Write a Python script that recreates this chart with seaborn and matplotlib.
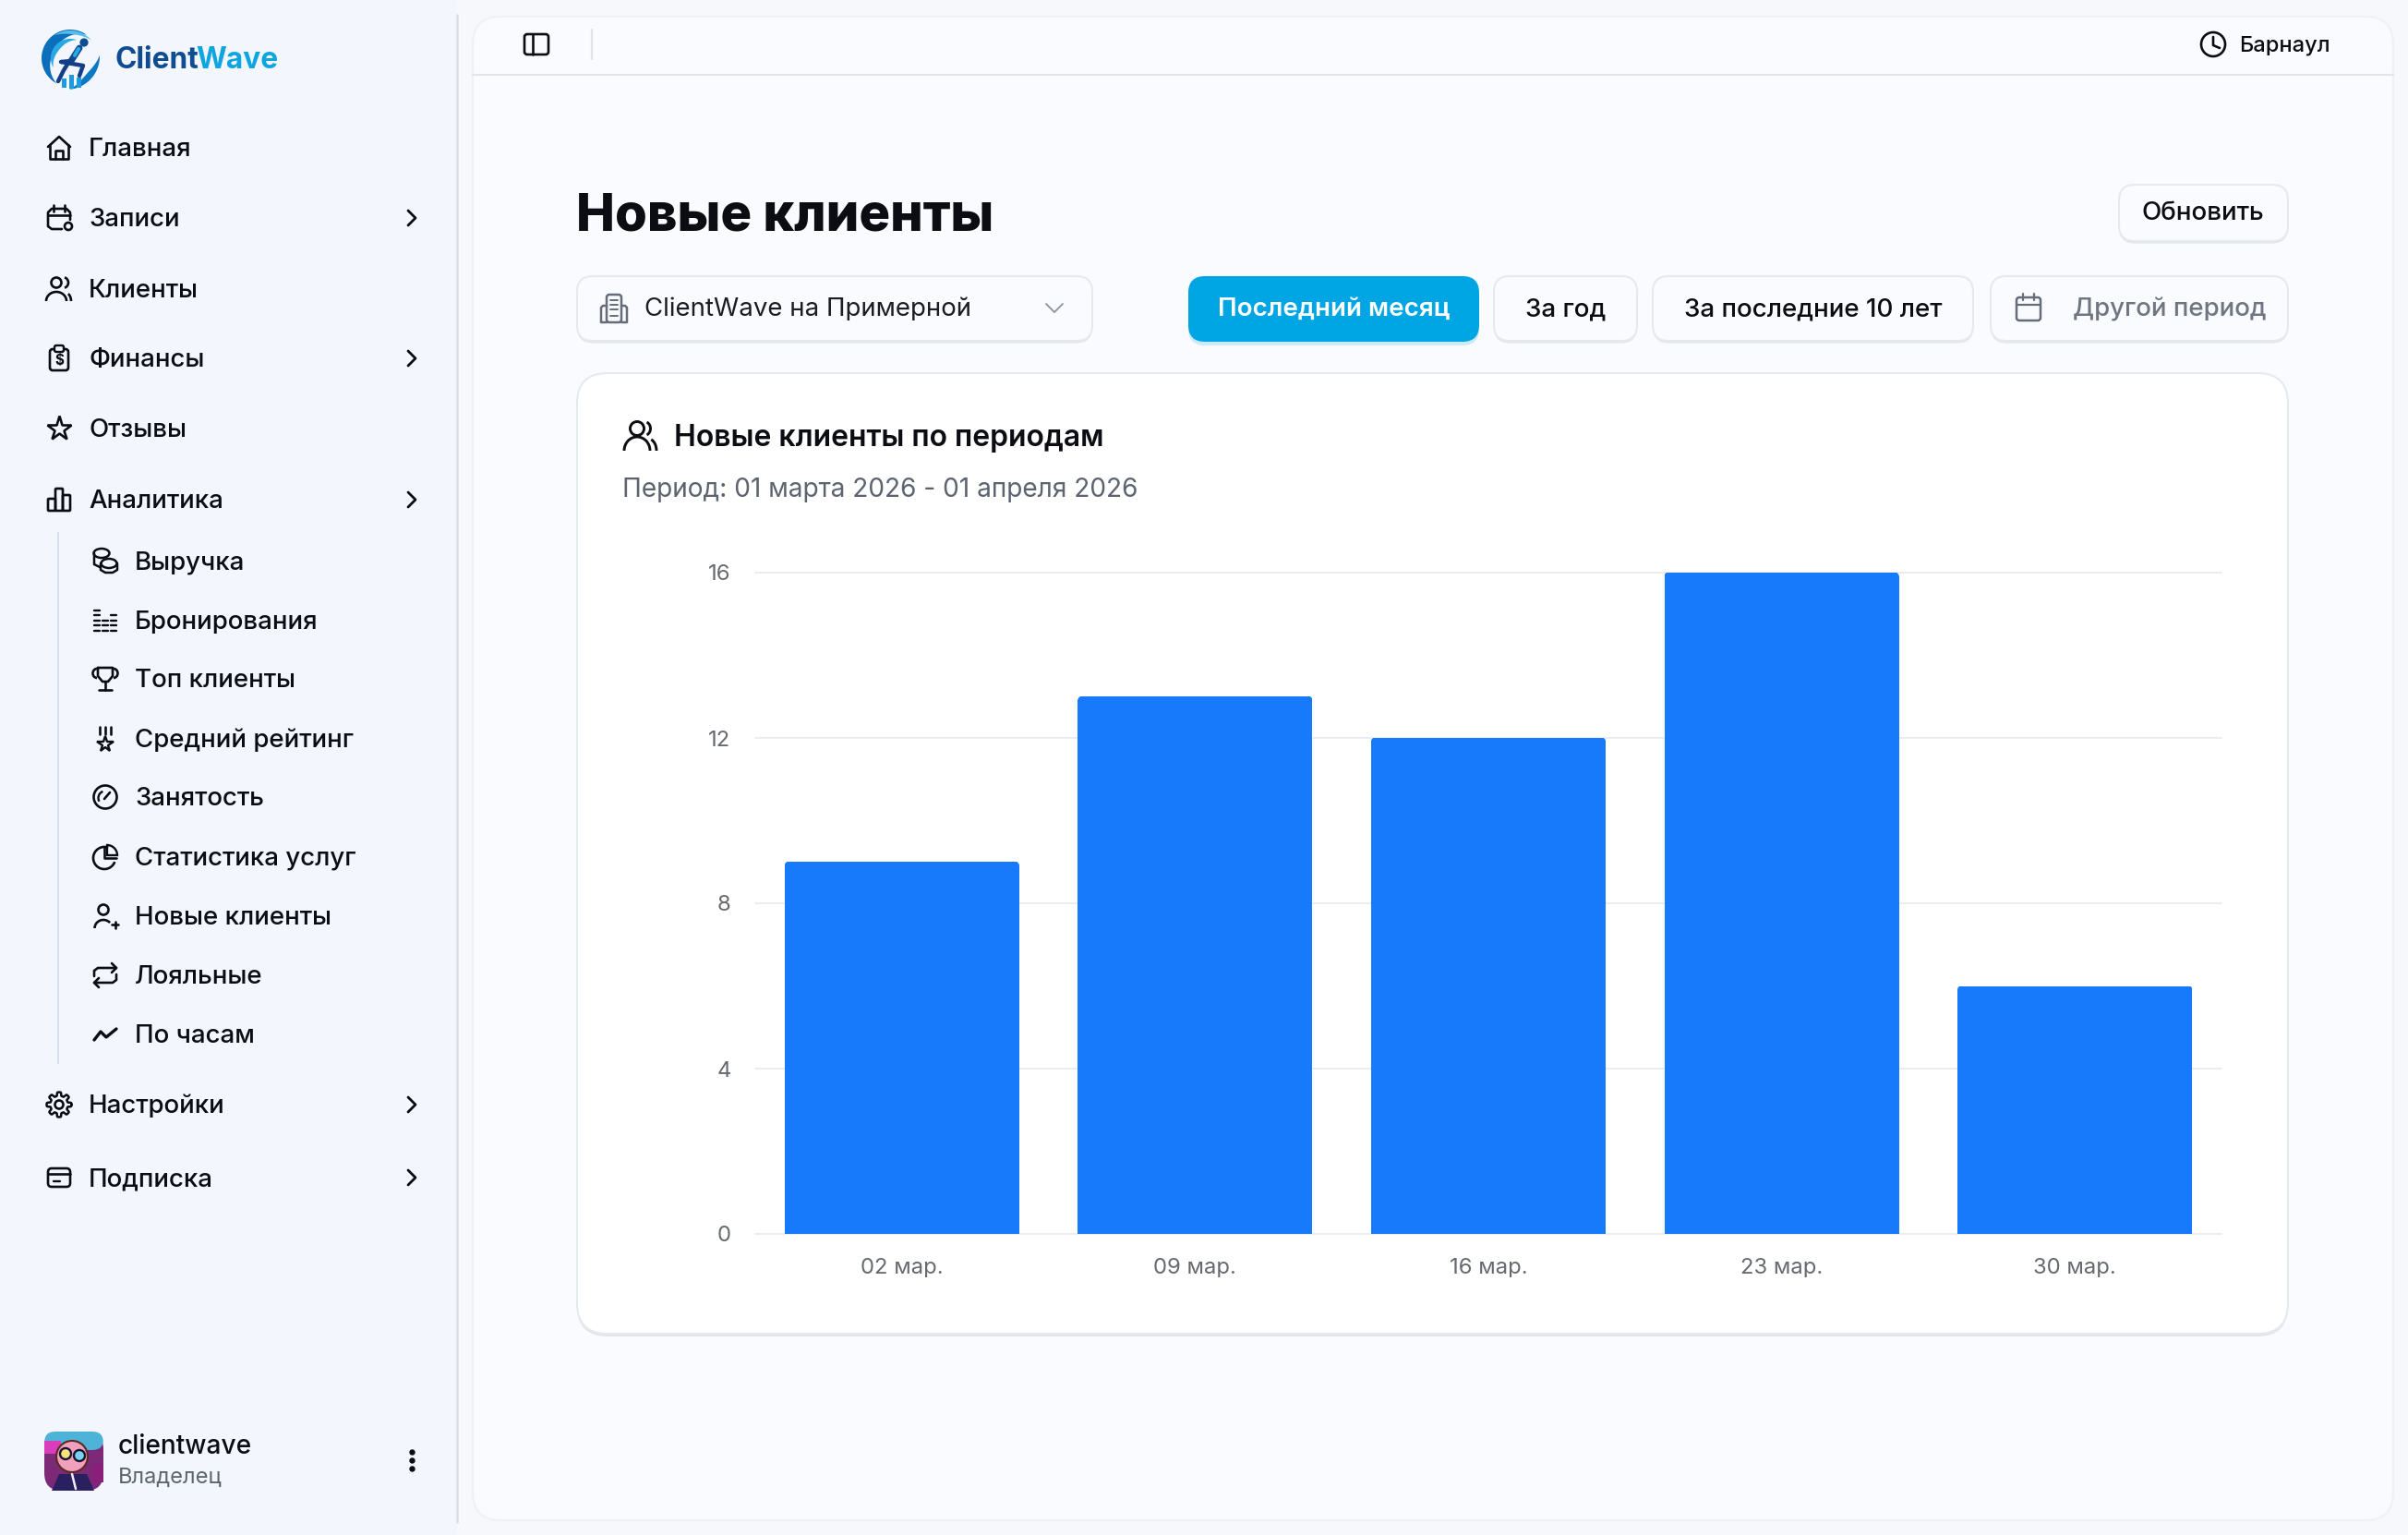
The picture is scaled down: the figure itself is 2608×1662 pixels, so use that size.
import matplotlib.pyplot as plt
import numpy as np
import seaborn as sns
from matplotlib.patches import Arc, Circle, Ellipse, FancyBboxPatch, Polygon, Wedge
from matplotlib.transforms import IdentityTransform

W, H = 2608, 1662

dates = ['02 мар.', '09 мар.', '16 мар.', '23 мар.', '30 мар.']
new_clients = [9, 13, 12, 16, 6]
y_ticks = [0, 4, 8, 12, 16]

menu_top = ['Главная', 'Записи', 'Клиенты', 'Финансы', 'Отзывы', 'Аналитика']
menu_sub = ['Выручка', 'Бронирования', 'Топ клиенты', 'Средний рейтинг', 'Занятость',
            'Статистика услуг', 'Новые клиенты', 'Лояльные', 'По часам']
menu_bottom = ['Настройки', 'Подписка']

DARK = '#0b0d12'
GREY = '#5c6470'
ICON_GREY = '#666d78'
BLUE = '#167afa'
CYAN = '#00a5e3'
BORDER = '#e6e9ed'

sns.set_theme(style='white')
plt.rcParams['font.family'] = ['Inter', 'DejaVu Sans']

fig = plt.figure(figsize=(W / 100, H / 100), dpi=100, facecolor='#f6f8fc')
ui = fig.add_axes([0, 0, 1, 1])
ui.set_xlim(0, W)
ui.set_ylim(H, 0)
ui.axis('off')


def box(x0, y0, x1, y1, r=16, fc='white', ec='none', lw=0, z=2):
    p = FancyBboxPatch((x0, y0), x1 - x0, y1 - y0, boxstyle=f'round,pad=0,rounding_size={r}',
                       fc=fc, ec=ec, lw=lw, zorder=z)
    ui.add_patch(p)


def line(xs, ys, lw=1.9, c=DARK, z=5):
    ui.plot(xs, ys, color=c, lw=lw, zorder=z, solid_capstyle='round', solid_joinstyle='round')


def label(x, y, s, size=20, c=DARK, weight='medium', ha='left'):
    return ui.text(x, y + 2, s, fontsize=size, color=c, fontweight=weight, ha=ha, va='center', zorder=6)


def ring(x, y, r, lw=1.9, c=DARK, fc='none'):
    ui.add_patch(Circle((x, y), r, fc=fc, ec=c, lw=lw, zorder=5))


def arc(x, y, w, h, a0, a1, lw=1.9, c=DARK):
    ui.add_patch(Arc((x, y), w, h, theta1=a0, theta2=a1, color=c, lw=lw, zorder=5))


def crescent(x, y, r, a0, a1, thick, c, z=4):
    # tapered swoosh for the logo
    t = np.linspace(0, 1, 60)
    a = np.radians(a0 + (a1 - a0) * t)
    inner = r - thick * np.sin(np.pi * t)
    pts = np.r_[np.c_[x + r * np.cos(a), y + r * np.sin(a)],
                np.c_[x + inner * np.cos(a), y + inner * np.sin(a)][::-1]]
    ui.add_patch(Polygon(pts, fc=c, ec='none', zorder=z))


def button(x0, x1, y0=299, y1=369, r=17):
    box(x0, y0 + 2, x1, y1 + 2.5, r, fc='#e3e6ea')
    box(x0, y0, x1, y1, r, fc='#f9fbfe', ec=BORDER, lw=1.5, z=3)


def chevron(x, y):
    line([x - 4, x + 4, x - 4], [y - 8, y, y + 8], lw=2)


# --- icons, roughly 26px boxes around (x, y) ---
def icon_home(x, y):
    line([x - 12, x, x + 12], [y - 1, y - 12, y - 1])
    line([x - 10, x - 10, x + 10, x + 10], [y - 3, y + 12, y + 12, y - 3])
    line([x - 4, x - 4, x + 4, x + 4], [y + 12, y + 3, y + 3, y + 12])


def icon_calendar(x, y):
    line([x + 12, x + 12, x + 8, x - 8, x - 12, x - 12, x - 8, x + 3],
         [y + 2, y - 6, y - 10, y - 10, y - 6, y + 9, y + 12, y + 12])
    line([x - 12, x + 12], [y - 3, y - 3])
    line([x - 6, x - 6], [y - 14, y - 7])
    line([x + 6, x + 6], [y - 14, y - 7])
    ring(x + 10, y + 9, 4)


def icon_users(x, y):
    ring(x - 3, y - 7, 5.5)
    arc(x - 3, y + 13, 22, 20, 180, 360)
    arc(x + 4, y - 7, 12, 12, -70, 70)
    arc(x + 7, y + 13, 12, 18, 290, 360)


def icon_finance(x, y):
    box(x - 10, y - 10, x + 10, y + 13, 3, fc='none', ec=DARK, lw=1.9, z=5)
    box(x - 5, y - 14, x + 5, y - 7, 2, fc='#f3f7fd', ec=DARK, lw=1.7, z=5)
    ui.text(x, y + 3, '$', fontsize=11, color=DARK, ha='center', va='center', fontweight='bold', zorder=6)


def icon_star(x, y):
    ui.plot([x], [y], marker='*', ms=20, mfc='none', mec=DARK, mew=1.9, zorder=5)


def icon_bars(x, y):
    box(x - 12, y - 1, x - 4, y + 12, 1, fc='none', ec=DARK, lw=1.9, z=5)
    box(x - 4, y - 12, x + 4, y + 12, 1, fc='none', ec=DARK, lw=1.9, z=5)
    box(x + 4, y - 5, x + 12, y + 12, 1, fc='none', ec=DARK, lw=1.9, z=5)


def icon_coins(x, y):
    ui.add_patch(Ellipse((x - 4, y - 8), 17, 10, fc='none', ec=DARK, lw=1.8, zorder=5))
    ui.add_patch(Ellipse((x + 4, y + 3), 17, 10, fc='#f3f7fd', ec=DARK, lw=1.8, zorder=5))
    line([x - 12, x - 12, x - 6], [y - 8, y + 4, y + 7], lw=1.8)
    line([x - 5, x - 5, x, x + 8, x + 13, x + 13], [y + 3, y + 10, y + 13, y + 13, y + 10, y + 3], lw=1.8)


def icon_levels(x, y):
    rows = {-9: [-11, -6, 0, 5, 11], 0: [0, 5, 11], 9: [-6, 0, 5, 11]}
    for dx, dys in rows.items():
        for dy in dys:
            line([x + dx - 3, x + dx + 3], [y + dy, y + dy], lw=1.7)


def icon_trophy(x, y):
    line([x - 8, x - 8, x - 3, x + 3, x + 8, x + 8, x - 8], [y - 12, y - 3, y + 3, y + 3, y - 3, y - 12, y - 12])
    arc(x - 9, y - 6, 9, 10, 90, 270)
    arc(x + 9, y - 6, 9, 10, -90, 90)
    line([x, x], [y + 3, y + 12])
    line([x - 7, x + 7], [y + 12, y + 12])


def icon_medal(x, y):
    for dx in [-6, 0, 6]:
        line([x + dx, x + dx], [y - 13, y - 5], lw=1.9)
    ui.plot([x], [y + 6], marker='*', ms=13, mfc='none', mec=DARK, mew=1.7, zorder=5)


def icon_gauge(x, y):
    ring(x, y, 12.5)
    line([x - 1, x + 5], [y + 2, y - 5])
    arc(x, y + 1, 15, 15, 150, 250, lw=1.7)


def icon_pie(x, y):
    arc(x - 1, y + 1, 24, 24, 20, 290)
    line([x - 1, x - 1, x + 12], [y - 11, y + 1, y + 1])
    ui.add_patch(Wedge((x + 2, y - 2), 11, -90, 0, fc='none', ec=DARK, lw=1.7, zorder=5))


def icon_user_plus(x, y):
    ring(x - 2, y - 7, 5.5)
    arc(x - 2, y + 13, 19, 18, 180, 320)
    line([x + 7, x + 14], [y + 9, y + 9])
    line([x + 10.5, x + 10.5], [y + 5.5, y + 12.5])


def icon_repeat(x, y):
    line([x - 12, x - 12, x - 8, x + 12], [y + 1, y - 5, y - 8, y - 8])
    line([x + 7, x + 12, x + 7], [y - 13, y - 8, y - 3])
    line([x + 12, x + 12, x + 8, x - 12], [y - 1, y + 5, y + 8, y + 8])
    line([x - 7, x - 12, x - 7], [y + 3, y + 8, y + 13])


def icon_trend(x, y):
    line([x - 12, x - 5, x + 1, x + 12], [y + 6, y - 3, y + 3, y - 6], lw=2.4)


def icon_gear(x, y):
    ring(x, y, 4.5)
    a = np.linspace(0, 2 * np.pi, 240)
    r = 11.5 + 2 * np.tanh(3 * np.cos(8 * a))
    ui.plot(x + r * np.cos(a), y + r * np.sin(a), color=DARK, lw=1.8, zorder=5)


def icon_card(x, y):
    box(x - 12, y - 10, x + 12, y + 10, 4, fc='none', ec=DARK, lw=1.9, z=5)
    line([x - 12, x + 12], [y - 4, y - 4])
    line([x - 6, x + 1], [y + 4, y + 4], lw=1.7)


# --- page frame ---
ui.add_patch(plt.Rectangle((0, 0), 495, H, fc='#f3f7fd', ec='none', zorder=1))
ui.plot([495, 495], [16, 1648], color='#d9dfe8', lw=1.8, zorder=2)
box(512, 18, 2592, 1646, 30, fc='#f9fbfe', ec='#eef1f5', lw=1.5)
ui.plot([512, 2592], [81, 81], color='#e1e5ea', lw=1.5, zorder=3)

# --- logo ---
crescent(76, 63, 31, 305, 118, 12, '#0b6fbb')
crescent(76, 63, 30, 320, 235, 4, '#59bdec', z=5)
crescent(76, 63, 21, 290, 150, 6, '#2aa8e6', z=5)
crescent(72, 61, 36, -2, 85, 7, '#0d79c4')
ui.add_patch(Circle((91, 46), 4.6, fc='#0f4c92', ec='none', zorder=7))
line([86, 77], [52, 66], lw=5, c='#0f4c92', z=7)
line([77, 66, 90, 86], [66, 67, 71, 82], lw=3.2, c='#123f85', z=7)
line([74, 69, 63], [68, 76, 88], lw=3.2, c='#123f85', z=7)
line([85, 81], [53, 60], lw=3, c='#2aa8e6', z=8)
for bx, bt, bb in zip([67, 75, 83], [85, 81, 84], [95, 96, 95]):
    ui.add_patch(plt.Rectangle((bx, bt), 4.5, bb - bt, fc='#1d9be0', ec='none', zorder=6))
label(124, 64, 'Client', size=22.8, c='#0f4c92', weight='bold')
label(212, 64, 'Wave', size=22.8, c='#0ea5e0', weight='bold')

# --- sidebar ---
top_icons = [icon_home, icon_calendar, icon_users, icon_finance, icon_star, icon_bars]
top_y = [160, 236, 313, 388, 464, 541]
for name, fn, y in zip(menu_top, top_icons, top_y):
    fn(64, y)
    label(96, y, name, size=19.9)
for y in [236, 388, 541]:
    chevron(446, y)

ui.plot([63, 63], [577, 1151], color='#d9dfe8', lw=1.5, zorder=3)
sub_icons = [icon_coins, icon_levels, icon_trophy, icon_medal, icon_gauge, icon_pie,
             icon_user_plus, icon_repeat, icon_trend]
sub_y = [607, 672, 735, 800, 863, 928, 992, 1056, 1120]
for name, fn, y in zip(menu_sub, sub_icons, sub_y):
    fn(114, y)
    label(146, y, name, size=19.9)

for name, fn, y in zip(menu_bottom, [icon_gear, icon_card], [1196, 1275]):
    fn(64, y)
    label(96, y, name, size=19.9)
    chevron(446, y)

# --- profile block ---
box(48, 1550, 112, 1614, 19, fc='#7c2a78')
box(48, 1550, 112, 1570, 12, fc='#4fb3d9', z=3)
ui.add_patch(plt.Rectangle((48, 1560), 18, 14, fc='#d93dbb', ec='none', zorder=3))
ui.add_patch(plt.Rectangle((100, 1585), 12, 20, fc='#8a1f7a', ec='none', zorder=3))
ui.add_patch(Circle((78, 1577), 17, fc='#f0a0bd', ec='#5a2a20', lw=1.5, zorder=4))
ui.add_patch(Polygon([[56, 1614], [64, 1596], [94, 1596], [102, 1614]], fc='#2a2060', ec='none', zorder=4))
line([78, 82], [1596, 1612], lw=1.8, c='#f2eef5')
ring(71, 1574, 6, lw=1.7, c='#1a1430', fc='#f5e27a')
ring(86, 1576, 6, lw=1.7, c='#1a1430', fc='#7ad0f0')
label(128, 1565, 'clientwave', size=20.2)
label(128, 1598, 'Владелец', size=17, c=GREY, weight='normal')
for y in [1572, 1581, 1590]:
    ui.plot([446], [y], 'o', ms=3.6, color=DARK, zorder=5)

# --- top bar ---
box(568, 37, 594, 59, 3, fc='none', ec=DARK, lw=1.9, z=5)
line([577, 577], [37, 59])
ui.plot([641, 641], [32, 64], color='#dfe3e8', lw=1.5, zorder=5)
ring(2397, 48, 13)
line([2397, 2397, 2404], [40, 49, 52])
label(2425, 47, 'Барнаул', size=17)

# --- page heading and controls ---
label(624, 233, 'Новые клиенты', size=40.5, weight=800)

button(2295, 2478, 200, 261)
label(2386, 229, 'Обновить', size=20, ha='center')

button(625, 1183)
# building icon of the select
box(657, 319, 673, 349, 3, fc='none', ec=ICON_GREY, lw=1.8, z=5)
line([673, 677, 679, 679, 673], [331, 331, 333, 349, 349], lw=1.8, c=ICON_GREY)
line([657, 653, 651, 651, 657], [331, 331, 333, 349, 349], lw=1.8, c=ICON_GREY)
for y in [325, 330, 335, 342]:
    line([661, 669], [y, y], lw=1.4, c=ICON_GREY)
label(698, 333, 'ClientWave на Примерной', size=19.9, c='#1a1d24', weight='normal')
line([1133, 1142, 1151], [329, 338, 329], lw=1.3, c='#8b929c')

box(1287, 303, 1602, 374, 18, fc='#c9ecf8')
box(1287, 299, 1602, 370, 18, fc=CYAN, z=3)
label(1445, 333, 'Последний месяц', size=20, c='white', weight='semibold', ha='center')
button(1618, 1773)
label(1696, 333, 'За год', size=20, ha='center')
button(1790, 2137)
label(1964, 333, 'За последние 10 лет', size=20, ha='center')
button(2156, 2478)
box(2184, 322, 2210, 347, 3, fc='none', ec=ICON_GREY, lw=1.8, z=5)
line([2184, 2210], [330, 330], lw=1.6, c=ICON_GREY)
line([2191, 2191], [318, 325], lw=1.6, c=ICON_GREY)
line([2203, 2203], [318, 325], lw=1.6, c=ICON_GREY)
label(2245, 333, 'Другой период', size=19.9, c='#6f7681')

# --- chart card ---
box(625, 406, 2478, 1447, 33, fc='#e2e5ea')
box(625, 404, 2478, 1444, 33, fc='white', ec='#e6e9ed', lw=1.5, z=3)
ring(690, 464, 7.5, lw=2.1)
arc(690, 488, 28, 30, 180, 360, lw=2.1)
arc(698, 464, 13, 15, -70, 70, lw=2.1)
arc(702, 488, 18, 26, 285, 360, lw=2.1)
label(730, 472, 'Новые клиенты по периодам', size=23, weight='semibold')
label(674, 528, 'Период: 01 марта 2026 - 01 апреля 2026', size=20.2, c=GREY, weight='normal')

# --- the chart itself ---
ax = fig.add_axes([818 / W, 1 - 1336 / H, (2406 - 818) / W, (1336 - 620) / H], zorder=5)
ax.patch.set_alpha(0)
sns.barplot(x=dates, y=new_clients, color=BLUE, saturation=1, width=0.8, linewidth=0, ax=ax)
ax.set_ylim(0, 16)
ax.set_yticks(y_ticks)
ax.set_axisbelow(True)
ax.grid(axis='y', color='#ebedf0', lw=1.4)
for gl in ax.get_ygridlines():
    gl.set_clip_on(False)
sns.despine(ax=ax, left=True, bottom=True, top=True, right=True)
ax.tick_params(axis='y', length=0, pad=19, labelsize=17.2, labelcolor='#666a70')
ax.tick_params(axis='x', length=0, pad=19, labelsize=17.2, labelcolor='#666a70')
ax.set_xlabel('')
ax.set_ylabel('')

# slightly rounded bar tops
fig.canvas.draw()
for bar in ax.patches:
    e = bar.get_window_extent()
    clip = FancyBboxPatch((e.x0 - 0.5, e.y0 - 12), e.width + 1, e.height + 13, boxstyle='round,pad=0,rounding_size=7',
                          transform=IdentityTransform())
    bar.set_clip_path(clip)

fig.savefig('out.png', dpi=100, facecolor=fig.get_facecolor())
